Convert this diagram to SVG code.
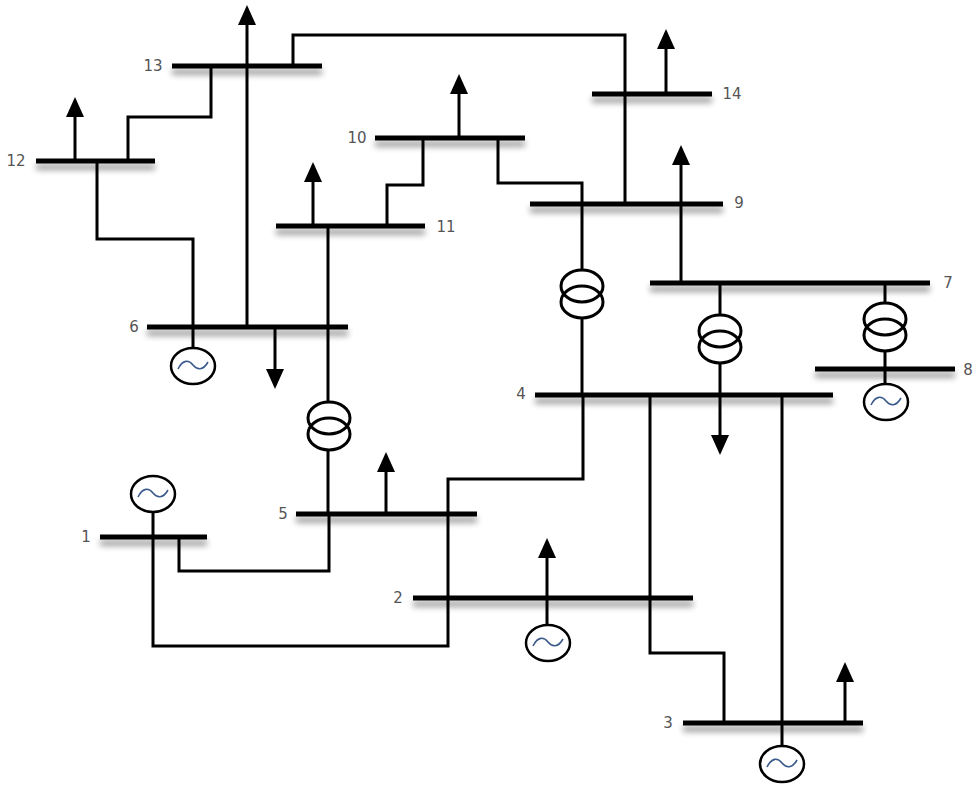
<svg xmlns="http://www.w3.org/2000/svg" xmlns:xlink="http://www.w3.org/1999/xlink" width="975" height="785" viewBox="0 0 975 785">
<defs>
<style>
.bar{stroke:#000;stroke-width:5;fill:none}
.bars{filter:url(#shadow)}
.ln{stroke:#000;stroke-width:3;fill:none}
.lbl{font-family:"DejaVu Sans",sans-serif;font-size:15px;fill:#555;text-anchor:middle;dominant-baseline:central}
.gen{stroke:#000;stroke-width:2.5;fill:#fff}
.wave{stroke:#3a5a8c;stroke-width:1.6;fill:none}
.tr{stroke:#000;stroke-width:3;fill:none}
.trbg{fill:#fff;stroke:none}
</style>
<filter id="shadow" filterUnits="userSpaceOnUse" x="0" y="0" width="975" height="785">
<feGaussianBlur in="SourceAlpha" stdDeviation="3"/>
<feOffset dx="0" dy="6" result="b"/>
<feComponentTransfer><feFuncA type="linear" slope="0.45"/></feComponentTransfer>
<feMerge><feMergeNode/><feMergeNode in="SourceGraphic"/></feMerge>
</filter>
<polygon id="arrowUp" points="0,0 -9,20 9,20" fill="#000"/>
<polygon id="arrowDown" points="0,0 -9,-20 9,-20" fill="#000"/>
<g id="genSym">
<ellipse cx="0" cy="0" rx="22" ry="18" class="gen"/>
<path d="M-15,3 C-10,-7 -4,-6 0,-1 C4,4 10,5 15,-4" class="wave"/>
</g>
<g id="trSym">
<ellipse cx="0" cy="-8" rx="21" ry="16" class="trbg"/>
<ellipse cx="0" cy="8" rx="21" ry="16" class="trbg"/>
<ellipse cx="0" cy="-8" rx="21" ry="16" class="tr"/>
<ellipse cx="0" cy="8" rx="21" ry="16" class="tr"/>
</g>
</defs>
<rect width="975" height="785" fill="#fff"/>

<g id="connectors">
<path class="ln" d="M153,512 V646 H448 V598"/>
<path class="ln" d="M179,537 V571 H329 V514"/>
<path class="ln" d="M650,395 V653 H724 V723"/>
<path class="ln" d="M448,598 V514"/>
<path class="ln" d="M782,395 V746"/>
<path class="ln" d="M583,395 V479 H448 V514"/>
<path class="ln" d="M720,283 V395"/>
<path class="ln" d="M582,204 V395"/>
<path class="ln" d="M328,226 V514"/>
<path class="ln" d="M885,283 V384"/>
<path class="ln" d="M681,165 V283"/>
<path class="ln" d="M498,138 V183 H582 V204"/>
<path class="ln" d="M293,66 V35 H625 V204"/>
<path class="ln" d="M423,138 V185 H387 V226"/>
<path class="ln" d="M211,66 V117 H128 V161"/>
<path class="ln" d="M97,161 V239 H193 V348"/>
<path class="ln" d="M247,25 V327"/>
<use xlink:href="#trSym" x="720" y="339"/>
<use xlink:href="#trSym" x="582" y="294"/>
<use xlink:href="#trSym" x="329" y="426"/>
<use xlink:href="#trSym" x="885" y="327"/>
</g>

<g class="bars">
<line class="bar" x1="100" y1="537" x2="207" y2="537"/>
<line class="bar" x1="413" y1="598" x2="693" y2="598"/>
<line class="bar" x1="683" y1="723" x2="863" y2="723"/>
<line class="bar" x1="535" y1="395" x2="833" y2="395"/>
<line class="bar" x1="296" y1="514" x2="477" y2="514"/>
<line class="bar" x1="147" y1="327" x2="348" y2="327"/>
<line class="bar" x1="650" y1="283" x2="930" y2="283"/>
<line class="bar" x1="815" y1="369" x2="955" y2="369"/>
<line class="bar" x1="530" y1="204" x2="723" y2="204"/>
<line class="bar" x1="375" y1="138" x2="525" y2="138"/>
<line class="bar" x1="276" y1="226" x2="425" y2="226"/>
<line class="bar" x1="36" y1="161" x2="155" y2="161"/>
<line class="bar" x1="172" y1="66" x2="322" y2="66"/>
<line class="bar" x1="592" y1="94" x2="712" y2="94"/>
</g>

<g id="bus1">
<text class="lbl" x="86" y="537">1</text>
<use xlink:href="#genSym" x="153" y="494"/>
</g>
<g id="bus2">
<text class="lbl" x="398" y="598">2</text>
<line class="ln" x1="547" y1="556" x2="547" y2="625"/>
<use xlink:href="#arrowUp" x="547" y="538"/>
<use xlink:href="#genSym" x="548" y="643"/>
</g>
<g id="bus3">
<text class="lbl" x="668" y="723">3</text>
<line class="ln" x1="845" y1="680" x2="845" y2="723"/>
<use xlink:href="#arrowUp" x="845" y="662"/>
<use xlink:href="#genSym" x="782" y="764"/>
</g>
<g id="bus4">
<text class="lbl" x="521" y="394">4</text>
<line class="ln" x1="720" y1="395" x2="720" y2="437"/>
<use xlink:href="#arrowDown" x="720" y="455"/>
</g>
<g id="bus5">
<text class="lbl" x="283" y="514">5</text>
<line class="ln" x1="386" y1="470" x2="386" y2="514"/>
<use xlink:href="#arrowUp" x="386" y="452"/>
</g>
<g id="bus6">
<text class="lbl" x="134" y="327">6</text>
<line class="ln" x1="275" y1="327" x2="275" y2="371"/>
<use xlink:href="#arrowDown" x="275" y="389"/>
<use xlink:href="#genSym" x="193" y="366"/>
</g>
<g id="bus7">
<text class="lbl" x="948" y="283">7</text>
</g>
<g id="bus8">
<text class="lbl" x="968" y="370">8</text>
<use xlink:href="#genSym" x="886" y="402"/>
</g>
<g id="bus9">
<text class="lbl" x="739" y="203">9</text>
<use xlink:href="#arrowUp" x="681" y="145"/>
</g>
<g id="bus10">
<text class="lbl" x="357" y="138">10</text>
<line class="ln" x1="459" y1="92" x2="459" y2="138"/>
<use xlink:href="#arrowUp" x="459" y="74"/>
</g>
<g id="bus11">
<text class="lbl" x="446" y="227">11</text>
<line class="ln" x1="313" y1="180" x2="313" y2="226"/>
<use xlink:href="#arrowUp" x="313" y="162"/>
</g>
<g id="bus12">
<text class="lbl" x="16" y="161">12</text>
<line class="ln" x1="75" y1="115" x2="75" y2="161"/>
<use xlink:href="#arrowUp" x="75" y="97"/>
</g>
<g id="bus13">
<text class="lbl" x="153" y="66">13</text>
<use xlink:href="#arrowUp" x="247" y="5"/>
</g>
<g id="bus14">
<text class="lbl" x="732" y="94">14</text>
<line class="ln" x1="666" y1="47" x2="666" y2="94"/>
<use xlink:href="#arrowUp" x="666" y="29"/>
</g>
</svg>
